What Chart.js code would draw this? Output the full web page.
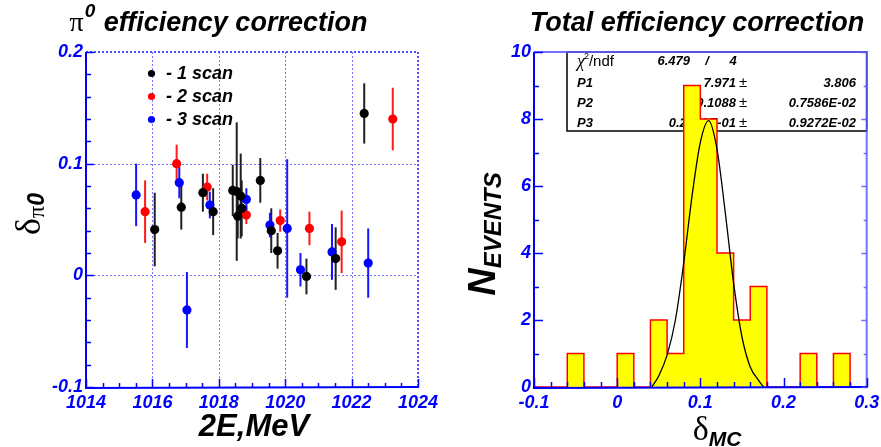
<!DOCTYPE html>
<html><head><meta charset="utf-8">
<script src="https://cdn.jsdelivr.net/npm/chart.js@4.4.0/dist/chart.umd.min.js"></script>
<style>
html,body{margin:0;padding:0;background:#fff;}
#wrap{position:relative;width:881px;height:447px;overflow:hidden;background:#fff;}
canvas{position:absolute;top:0;}
</style></head><body>
<div id="wrap"><canvas id="c1" width="440" height="447" style="left:0"></canvas><canvas id="c2" width="441" height="447" style="left:440px"></canvas></div>
<script>
// ---------- data ----------
const scan1E   = [1016.07,1016.87,1017.52,1017.83,1018.42,1018.54,1018.57,1018.66,1018.69,1019.25,1019.58,1019.77,1020.64,1021.52,1022.38];
const scan1D   = [0.041,0.061,0.074,0.057,0.076,0.075,0.053,0.071,0.060,0.085,0.040,0.022,-0.001,0.015,0.145];
const scan1Err = [0.033,0.020,0.017,0.021,0.023,0.062,0.020,0.038,0.025,0.020,0.020,0.016,0.016,0.028,0.027];

const scan2E   = [1015.78,1016.73,1017.65,1018.83,1019.85,1020.73,1021.70,1023.24];
const scan2D   = [0.057,0.100,0.079,0.054,0.049,0.042,0.030,0.140];
const scan2Err = [0.028,0.017,0.012,0.008,0.010,0.015,0.028,0.028];

const scan3E   = [1015.51,1016.81,1017.04,1017.73,1018.83,1019.54,1020.06,1020.46,1021.41,1022.50];
const scan3D   = [0.072,0.083,-0.031,0.063,0.068,0.045,0.042,0.005,0.021,0.011];
const scan3Err = [0.028,0.014,0.034,0.012,0.010,0.011,0.062,0.015,0.025,0.031];

const legendLabels = ['- 1 scan','- 2 scan','- 3 scan'];

const histEdges  = [-0.1,-0.08,-0.06,-0.04,-0.02,0,0.02,0.04,0.06,0.08,0.1,0.12,0.14,0.16,0.18,0.2,0.22,0.24,0.26,0.28,0.3];
const histCounts = [0,0,1,0,0,1,0,2,1,9,8,4,2,3,0,0,1,0,1,0];

const fitX = [0.0415,0.05,0.06,0.07,0.08,0.09,0.10,0.11,0.12,0.13,0.14,0.15,0.16,0.17,0.176];
const fitY = [0.0,0.33,0.95,2.0,3.7,5.7,7.3,7.95,7.1,5.2,3.1,1.5,0.6,0.2,0.0];

const leftXTicks  = [1014,1016,1018,1020,1022,1024];
const leftYTicks  = [-0.1,0,0.1,0.2];
const rightXTicks = [-0.1,0,0.1,0.2,0.3];
const rightYTicks = [0,2,4,6,8,10];

const statsHeader = ['6.479','/','4'];
const statsNames  = ['P1','P2','P3'];
const statsVals   = ['7.971','0.1088','0.2258E-01'];
const statsErrs   = ['3.806','0.7586E-02','0.9272E-02'];

// ---------- styles ----------
const SANS = "'Liberation Sans', Arial, sans-serif";
const SERIF = "'Liberation Serif', 'DejaVu Serif', serif";
const BLUE = '#0000ff';
const GRID = 'rgba(100,100,255,0.9)';
const tickFont = {family: SANS, size: 18, style: 'italic', weight: 'bold'};

function setTicks(arr){ return s => { s.ticks = arr.map(v => ({value: v})); }; }

function drawTicksInward(ctx, a, xs, ys, xMajor, xMinorStep, yMajor, yMinorStep, opts){
  ctx.save();
  ctx.strokeStyle = BLUE; ctx.lineWidth = 1.5;
  for (let v = xs.min; v <= xs.max + 1e-9; v += xMinorStep) {
    const isMaj = xMajor.some(m => Math.abs(m - v) < 1e-6);
    const px = Math.round(xs.getPixelForValue(v)) + 0.5;
    const L = isMaj ? opts.xMaj : opts.xMin;
    ctx.beginPath(); ctx.moveTo(px, a.bottom); ctx.lineTo(px, a.bottom - L); ctx.stroke();
  }
  for (let v = ys.min; v <= ys.max + 1e-9; v += yMinorStep) {
    const isMaj = yMajor.some(m => Math.abs(m - v) < 1e-6);
    const py = Math.round(ys.getPixelForValue(v)) + 0.5;
    const L = isMaj ? opts.yMaj : opts.yMin;
    ctx.beginPath(); ctx.moveTo(a.left, py); ctx.lineTo(a.left + L, py); ctx.stroke();
    if (opts.rightTicks) {
      ctx.strokeStyle = opts.rightColor;
      ctx.beginPath(); ctx.moveTo(a.right, py); ctx.lineTo(a.right - L*0.6, py); ctx.stroke();
      ctx.strokeStyle = BLUE;
    }
  }
  ctx.restore();
}

// ---------- left chart ----------
const leftDecor = {
  id: 'leftDecor',
  beforeDatasetsDraw(chart) {
    const {ctx, chartArea: a, scales: {x, y}} = chart;
    ctx.save();
    ctx.strokeStyle = GRID; ctx.lineWidth = 1; ctx.setLineDash([2, 2]);
    leftXTicks.forEach(v => {
      if (v > x.min && v < x.max) {
        const px = Math.round(x.getPixelForValue(v)) + 0.5;
        ctx.beginPath(); ctx.moveTo(px, a.top); ctx.lineTo(px, a.bottom); ctx.stroke();
      }
    });
    leftYTicks.forEach(v => {
      if (v > y.min && v < y.max) {
        const py = Math.round(y.getPixelForValue(v)) + 0.5;
        ctx.beginPath(); ctx.moveTo(a.left, py); ctx.lineTo(a.right, py); ctx.stroke();
      }
    });
    ctx.lineWidth = 2; ctx.strokeStyle = 'rgba(60,60,255,0.9)';
    ctx.beginPath(); ctx.moveTo(a.left, a.top); ctx.lineTo(a.right, a.top); ctx.stroke();
    ctx.beginPath(); ctx.moveTo(a.right, a.top); ctx.lineTo(a.right, a.bottom); ctx.stroke();
    ctx.setLineDash([]);
    chart.data.datasets.forEach(ds => {
      ctx.strokeStyle = ds.errColor; ctx.lineWidth = 2;
      ds.data.forEach((p, i) => {
        const px = x.getPixelForValue(p.x);
        ctx.beginPath();
        ctx.moveTo(px, y.getPixelForValue(p.y + ds.err[i]));
        ctx.lineTo(px, y.getPixelForValue(p.y - ds.err[i]));
        ctx.stroke();
      });
    });
    ctx.restore();
  },
  afterDatasetsDraw(chart) {
    const {ctx, chartArea: a, scales: {x, y}} = chart;
    ctx.save();
    ctx.strokeStyle = BLUE; ctx.lineWidth = 2;
    ctx.beginPath(); ctx.moveTo(a.left, a.top); ctx.lineTo(a.left, a.bottom + 1); ctx.lineTo(a.right + 1, a.bottom); ctx.stroke();
    ctx.restore();
    drawTicksInward(ctx, a, x, y, leftXTicks, 0.5, leftYTicks, 0.02, {xMaj: 8, xMin: 4, yMaj: 8, yMin: 5});
  },
  afterDraw(chart) {
    const {ctx} = chart;
    ctx.save();
    const colors = chart.data.datasets.map(d => d.pointBackgroundColor);
    legendLabels.forEach((t, i) => {
      const cy = 73.5 + i * 23;
      ctx.fillStyle = colors[i];
      ctx.beginPath(); ctx.arc(151.5, cy, 3.6, 0, Math.PI * 2); ctx.fill();
      ctx.fillStyle = '#000';
      ctx.font = `italic bold 18px ${SANS}`;
      ctx.textBaseline = 'middle'; ctx.textAlign = 'left';
      ctx.fillText(t, 166, cy + 1);
    });
    // title
    ctx.textBaseline = 'alphabetic'; ctx.textAlign = 'left';
    const f1 = `28px ${SERIF}`, f2 = `italic bold 19px ${SANS}`, f3 = `italic bold 27px ${SANS}`;
    ctx.font = f1; const wpi = ctx.measureText('π').width;
    ctx.font = f2; const w0 = ctx.measureText('0').width;
    ctx.font = f3; const wt = ctx.measureText(' efficiency correction').width;
    let sx = 218.5 - (wpi + w0 + 2 + wt) / 2;
    ctx.fillStyle = '#000';
    ctx.font = f1; ctx.fillText('π', sx, 31);
    ctx.font = f2; ctx.fillText('0', sx + wpi + 1, 17);
    ctx.font = f3; ctx.fillText(' efficiency correction', sx + wpi + w0 + 2, 31);
    // x title
    ctx.font = `italic bold 31px ${SANS}`; ctx.textAlign = 'center';
    ctx.fillText('2E,MeV', 254, 436);
    // y title (rotated)
    ctx.translate(40, 214);
    ctx.rotate(-Math.PI / 2);
    ctx.textAlign = 'left';
    const g1 = `36px ${SERIF}`, g2 = `24px ${SERIF}`, g3 = `italic bold 23px ${SANS}`;
    ctx.font = g1; const wd = ctx.measureText('δ').width;
    ctx.font = g2; const wp = ctx.measureText('π').width;
    ctx.font = g3; const wz = ctx.measureText('0').width;
    let lx = -(wd + wp + wz) / 2;
    ctx.font = g1; ctx.fillText('δ', lx, 0);
    ctx.font = g2; ctx.fillText('π', lx + wd, 4);
    ctx.font = g3; ctx.fillText('0', lx + wd + wp, 4);
    ctx.restore();
  }
};

function mk(E, D){ return E.map((e, i) => ({x: e, y: D[i]})); }

new Chart(document.getElementById('c1'), {
  type: 'scatter',
  data: {datasets: [
    {label: '1 scan', data: mk(scan1E, scan1D), err: scan1Err, errColor: '#202020', pointRadius: 4.6, pointBackgroundColor: '#000000', pointBorderWidth: 0},
    {label: '2 scan', data: mk(scan2E, scan2D), err: scan2Err, errColor: '#ff1a1a', pointRadius: 4.6, pointBackgroundColor: '#ff0000', pointBorderWidth: 0},
    {label: '3 scan', data: mk(scan3E, scan3D), err: scan3Err, errColor: '#1515ff', pointRadius: 4.6, pointBackgroundColor: '#0000ff', pointBorderWidth: 0}
  ]},
  options: {
    responsive: false, animation: false, devicePixelRatio: 1,
    layout: {padding: {top: 52, right: 22, left: 0, bottom: 0}},
    plugins: {legend: {display: false}, tooltip: {enabled: false}},
    scales: {
      x: {type: 'linear', min: 1014, max: 1024, afterBuildTicks: setTicks(leftXTicks),
          ticks: {font: tickFont, color: BLUE, padding: -3, maxRotation: 0, autoSkip: false, callback: v => String(v)},
          grid: {display: false}, border: {display: false}, afterFit: s => { s.height = 60; }},
      y: {type: 'linear', min: -0.1, max: 0.2, afterBuildTicks: setTicks(leftYTicks),
          ticks: {font: tickFont, color: BLUE, padding: -5, autoSkip: false, callback: v => String(v)},
          grid: {display: false}, border: {display: false}, afterFit: s => { s.width = 86; }}
    }
  },
  plugins: [leftDecor]
});

// ---------- right chart ----------
const rightDecor = {
  id: 'rightDecor',
  beforeDatasetsDraw(chart) {
    const {ctx, chartArea: a} = chart;
    ctx.save();
    const bx = 127, by = 52, bw = a.right - 127, bh = 79;
    ctx.fillStyle = '#fff'; ctx.fillRect(bx, by, bw, bh);
    ctx.strokeStyle = '#000'; ctx.lineWidth = 1.5; ctx.strokeRect(bx, by, bw, bh);
    ctx.fillStyle = '#000'; ctx.textBaseline = 'middle';
    const rows = [61.7, 83.3, 103.3, 123.3];
    ctx.textAlign = 'left';
    ctx.font = `italic 18px ${SERIF}`; ctx.fillText('χ', 137, rows[0] + 1);
    const wc = ctx.measureText('χ').width;
    ctx.font = `9px ${SANS}`; ctx.fillText('2', 137 + wc - 1, rows[0] - 5);
    ctx.font = `15px ${SANS}`; ctx.fillText('/ndf', 137 + wc + 4, rows[0]);
    ctx.font = `italic bold 13px ${SANS}`;
    ctx.textAlign = 'right'; ctx.fillText(statsHeader[0], 250, rows[0]);
    ctx.textAlign = 'center'; ctx.fillText(statsHeader[1], 267, rows[0]);
    ctx.fillText(statsHeader[2], 293, rows[0]);
    statsNames.forEach((n, i) => {
      const cy = rows[i + 1];
      ctx.font = `italic bold 13px ${SANS}`;
      ctx.textAlign = 'left'; ctx.fillText(n, 137, cy);
      ctx.textAlign = 'right'; ctx.fillText(statsVals[i], 296, cy);
      ctx.fillText(statsErrs[i], 416, cy);
      ctx.font = `15px ${SANS}`; ctx.textAlign = 'left'; ctx.fillText('±', 299, cy);
    });
    ctx.restore();
  },
  afterDatasetsDraw(chart) {
    const {ctx, chartArea: a, scales: {x, y}} = chart;
    ctx.save();
    ctx.strokeStyle = 'rgba(90,90,255,0.85)'; ctx.lineWidth = 2;
    ctx.beginPath(); ctx.moveTo(a.left, a.top); ctx.lineTo(a.right, a.top); ctx.lineTo(a.right, a.bottom); ctx.stroke();
    ctx.strokeStyle = BLUE; ctx.lineWidth = 2;
    ctx.beginPath(); ctx.moveTo(a.left, a.top); ctx.lineTo(a.left, a.bottom + 1); ctx.lineTo(a.right + 1, a.bottom); ctx.stroke();
    ctx.restore();
    drawTicksInward(ctx, a, x, y, rightXTicks, 0.02, rightYTicks, 1, {xMaj: 9, xMin: 5, yMaj: 9, yMin: 5, rightTicks: true, rightColor: 'rgba(90,90,255,0.85)'});
  },
  afterDraw(chart) {
    const {ctx} = chart;
    ctx.save();
    ctx.fillStyle = '#000'; ctx.textBaseline = 'alphabetic';
    ctx.font = `italic bold 27px ${SANS}`; ctx.textAlign = 'center';
    ctx.fillText('Total efficiency correction', 257, 31);
    ctx.textAlign = 'left';
    ctx.font = `34px ${SERIF}`; const wd = ctx.measureText('δ').width;
    ctx.font = `italic bold 21px ${SANS}`; const wm = ctx.measureText('MC').width;
    let sx = 277 - (wd + wm) / 2;
    ctx.font = `34px ${SERIF}`; ctx.fillText('δ', sx, 440);
    ctx.font = `italic bold 21px ${SANS}`; ctx.fillText('MC', sx + wd, 446);
    ctx.translate(55, 234);
    ctx.rotate(-Math.PI / 2);
    ctx.font = `italic bold 38px ${SANS}`; const wn = ctx.measureText('N').width;
    ctx.font = `italic bold 24px ${SANS}`; const we = ctx.measureText('EVENTS').width;
    let lx = -(wn + we) / 2;
    ctx.font = `italic bold 38px ${SANS}`; ctx.fillText('N', lx, 0);
    ctx.font = `italic bold 24px ${SANS}`; ctx.fillText('EVENTS', lx + wn, 6);
    ctx.restore();
  }
};

new Chart(document.getElementById('c2'), {
  type: 'line',
  data: {datasets: [
    {label: 'fit', data: fitX.map((v, i) => ({x: v, y: fitY[i]})), borderColor: '#000', borderWidth: 1.3, pointRadius: 0, fill: false, cubicInterpolationMode: 'monotone'},
    {label: 'hist', data: histEdges.map((e, i) => ({x: e, y: i < histCounts.length ? histCounts[i] : 0})),
     stepped: 'before', fill: 'origin', backgroundColor: '#ffff00', borderColor: '#ff0000', borderWidth: 1.5, pointRadius: 0}
  ]},
  options: {
    responsive: false, animation: false, devicePixelRatio: 1,
    layout: {padding: {top: 52, right: 14.3, left: 0, bottom: 0}},
    plugins: {legend: {display: false}, tooltip: {enabled: false}},
    scales: {
      x: {type: 'linear', min: -0.1, max: 0.3, afterBuildTicks: setTicks(rightXTicks),
          ticks: {font: tickFont, color: BLUE, padding: -3, maxRotation: 0, autoSkip: false, callback: v => String(v)},
          grid: {display: false}, border: {display: false}, afterFit: s => { s.height = 60; }},
      y: {type: 'linear', min: 0, max: 10, afterBuildTicks: setTicks(rightYTicks),
          ticks: {font: tickFont, color: BLUE, padding: -5, autoSkip: false, callback: v => String(v)},
          grid: {display: false}, border: {display: false}, afterFit: s => { s.width = 94; }}
    }
  },
  plugins: [rightDecor]
});
</script>
</body></html>
